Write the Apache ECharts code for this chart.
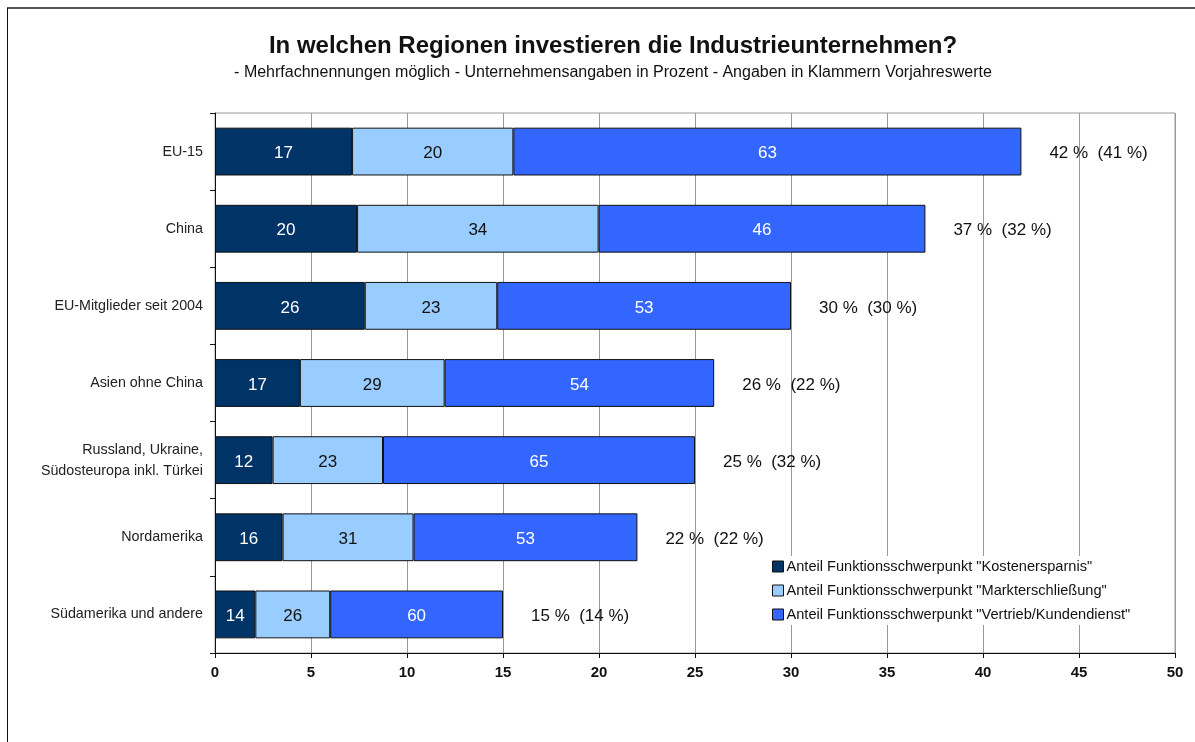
<!DOCTYPE html>
<html>
<head>
<meta charset="utf-8">
<script src="https://cdn.jsdelivr.net/npm/echarts@6/dist/echarts.min.js"></script>
<style>html,body{margin:0;padding:0;background:#fff}#c{width:1195px;height:742px}</style>
</head>
<body>
<div id="c"></div>
<script>
const categories = ["EU-15", "China", "EU-Mitglieder seit 2004", "Asien ohne China", "Russland, Ukraine,\nSüdosteuropa inkl. Türkei", "Nordamerika", "Südamerika und andere"];
const totals = [42, 37, 30, 26, 25, 22, 15];
const previousYear = [41, 32, 30, 22, 32, 22, 14];
const shareKosten = [17, 20, 26, 17, 12, 16, 14];
const shareMarkt = [20, 34, 23, 29, 23, 31, 26];
const shareVertrieb = [63, 46, 53, 54, 65, 53, 60];
const seriesNames = ['Anteil Funktionsschwerpunkt "Kostenersparnis"', 'Anteil Funktionsschwerpunkt "Markterschließung"', 'Anteil Funktionsschwerpunkt "Vertrieb/Kundendienst"'];
const xTicks = [0, 5, 10, 15, 20, 25, 30, 35, 40, 45, 50];

const FONT = 'Liberation Sans';
const segKosten = shareKosten.map((s, i) => ({ value: totals[i] * s / 100, share: s }));
const segMarkt = shareMarkt.map((s, i) => ({ value: totals[i] * s / 100, share: s }));
// last segment fills the bar up to the total
const segVertrieb = shareVertrieb.map((s, i) => ({ value: totals[i] - segKosten[i].value - segMarkt[i].value, share: s }));

const colors = ['#003366', '#99CCFF', '#3366FF'];
const labelColors = ['#ffffff', '#111111', '#ffffff'];
const segs = [segKosten, segMarkt, segVertrieb];

const series = segs.map((d, k) => ({
  name: seriesNames[k],
  type: 'bar',
  stack: 'a',
  barCategoryGap: '38%',
  data: d,
  itemStyle: { color: colors[k], borderColor: '#111', borderWidth: 1 },
  label: { show: true, position: 'inside', offset: [0, 2], color: labelColors[k], fontFamily: FONT, fontSize: 17,
    formatter: p => String(p.data.share) },
  emphasis: { disabled: true }
}));
series.push({
  name: 'total', type: 'bar', stack: 'a',
  data: totals.map(() => 0),
  itemStyle: { color: 'transparent', borderWidth: 0 },
  label: { show: true, position: 'right', distance: 28, offset: [0, 2], color: '#111', fontFamily: FONT, fontSize: 17,
    formatter: p => totals[p.dataIndex] + ' %  (' + previousYear[p.dataIndex] + ' %)' },
  emphasis: { disabled: true }
});

const chart = echarts.init(document.getElementById('c'));
chart.setOption({
  animation: false,
  color: colors,
  title: {
    text: 'In welchen Regionen investieren die Industrieunternehmen?',
    subtext: '- Mehrfachnennungen möglich - Unternehmensangaben in Prozent - Angaben in Klammern Vorjahreswerte',
    left: 608, textAlign: 'center', top: 29, itemGap: 7,
    textStyle: { fontFamily: FONT, fontSize: 24, fontWeight: 'bold', color: '#111' },
    subtextStyle: { fontFamily: FONT, fontSize: 16, color: '#111' }
  },
  grid: { left: 215, right: 20, top: 113, bottom: 89, show: true, borderColor: '#999', borderWidth: 1, containLabel: false },
  legend: {
    data: seriesNames,
    orient: 'vertical', left: 768, top: 556,
    itemWidth: 11, itemHeight: 11, itemGap: 9,
    backgroundColor: '#fff', padding: [3, 6, 3, 4],
    icon: 'rect',
    itemStyle: { borderColor: '#111', borderWidth: 1 },
    textStyle: { fontFamily: FONT, fontSize: 14.6, color: '#111', padding: [0, 0, 0, -2] },
    selectedMode: false
  },
  xAxis: {
    type: 'value', min: 0, max: 50, interval: 5,
    axisLine: { show: true, lineStyle: { color: '#111', width: 1 } },
    axisTick: { show: true, length: 5, lineStyle: { color: '#111' } },
    splitLine: { show: true, lineStyle: { color: '#999', width: 1 } },
    axisLabel: { fontFamily: 'Liberation Sans', fontWeight: 'bold', fontSize: 15, color: '#111', margin: 12,
      formatter: v => xTicks.includes(v) ? String(v) : '' }
  },
  yAxis: {
    type: 'category', data: categories, inverse: true,
    axisLine: { show: true, lineStyle: { color: '#111', width: 1 } },
    axisTick: { show: true, length: 5, lineStyle: { color: '#111' } },
    axisLabel: { fontFamily: FONT, fontSize: 14.3, color: '#222', margin: 12, lineHeight: 21, align: 'right', padding: [6, 0, 0, 0] },
    splitLine: { show: false }
  },
  series: series,
  graphic: [
    { type: 'line', shape: { x1: 7, y1: 8, x2: 1195, y2: 8 }, style: { stroke: '#555', lineWidth: 2 } },
    { type: 'line', shape: { x1: 7.5, y1: 8, x2: 7.5, y2: 742 }, style: { stroke: '#111', lineWidth: 1 } }
  ]
});
</script>
</body>
</html>
